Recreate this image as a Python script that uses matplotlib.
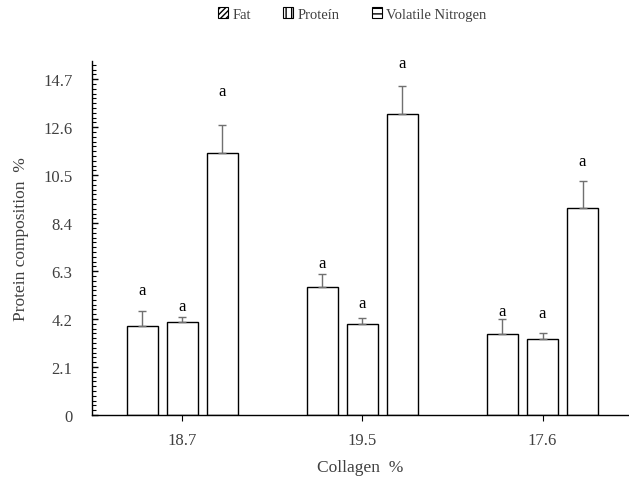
import numpy as np
import matplotlib
matplotlib.use('Agg')
import matplotlib.pyplot as plt
from matplotlib.patches import Patch
from matplotlib.ticker import MultipleLocator

plt.rcParams['font.family'] = ['Liberation Serif', 'DejaVu Serif']

# data
groups = ['18.7', '19.5', '17.6']
series = ['Fat', 'Proteín', 'Volatile Nitrogen']
fat = [3.90, 5.61, 3.55]
protein = [4.08, 3.99, 3.33]
volatile_n = [11.49, 13.20, 9.08]
fat_err = [0.66, 0.57, 0.66]
protein_err = [0.22, 0.26, 0.27]
volatile_n_err = [1.19, 1.19, 1.18]
letters = ['a', 'a', 'a']
letter_y = [[5.48, 6.67, 4.56], [4.78, 4.91, 4.47], [14.17, 15.40, 11.10]]
hatches = ['//////', '|||', '---']

txt = '#404040'
fig = plt.figure(figsize=(6.29, 4.81), dpi=100)
ax = fig.add_axes([92/629, 1-416/481, (629-92)/629, (416-62)/481])

x = np.arange(len(groups))
w = 0.172
step = 0.222
vals = [fat, protein, volatile_n]
errs = [fat_err, protein_err, volatile_n_err]
for i in range(3):
    xi = x + (i-1)*step
    ax.bar(xi, vals[i], w, color='white', edgecolor='black', linewidth=1.0, zorder=2)
    ax.errorbar(xi, vals[i], yerr=[np.zeros(3), errs[i]], fmt='none',
                ecolor='#707070', elinewidth=1.0, capsize=3, capthick=1.0, zorder=3)
    for j in range(3):
        ax.text(xi[j], letter_y[i][j], letters[j], ha='center', va='center',
                fontsize=12, color='black')

ax.set_xlim(-0.5, 2.48)
ax.set_ylim(0, 15.5)
ax.set_yticks(np.arange(0, 14.71, 2.1))
ax.set_yticklabels(['0', '2.1', '4.2', '6.3', '8.4', '10.5', '12.6', '14.7'])
ax.yaxis.set_minor_locator(MultipleLocator(0.21))
ax.set_xticks(x)
ax.set_xticklabels(groups)
ax.tick_params(axis='y', which='major', direction='in', length=4, width=1, colors='black', labelcolor=txt, labelsize=12, pad=14)
ax.tick_params(axis='y', which='minor', direction='in', length=3, width=0.8, colors='black')
ax.tick_params(axis='x', length=4, width=0.8, colors='black', labelcolor=txt, labelsize=12, pad=8)
for s in ['top', 'right']:
    ax.spines[s].set_visible(False)
for s in ['left', 'bottom']:
    ax.spines[s].set_linewidth(1.0)
    ax.spines[s].set_color('black')

ax.set_ylabel('Protein composition  %', fontsize=12.5, color=txt, labelpad=10)
ax.set_xlabel('Collagen  %', fontsize=12.5, color=txt, labelpad=8)

handles = [Patch(facecolor='white', edgecolor='black', hatch=h, linewidth=0.8) for h in hatches]
fig.legend(handles, series, loc='center', bbox_to_anchor=(352/629, 1-15/481), ncol=3,
           frameon=False, fontsize=10.5, handlelength=0.7, handleheight=0.7,
           handletextpad=0.3, columnspacing=2.2, labelcolor=txt)

fig.savefig('out.png', dpi=100)
